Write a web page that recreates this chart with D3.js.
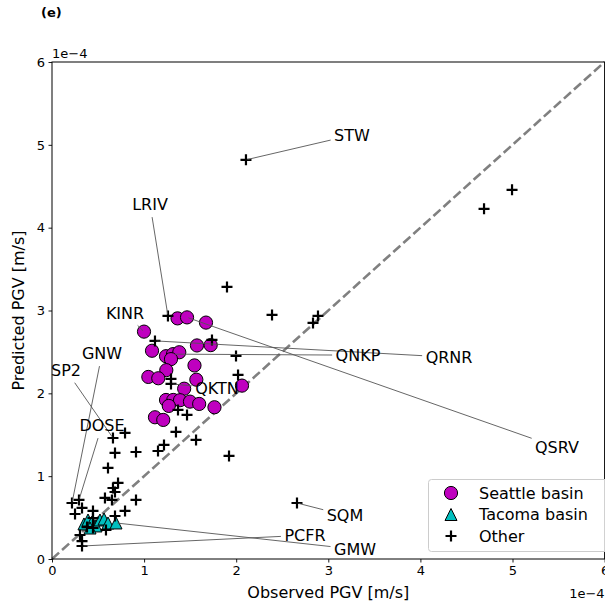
<!DOCTYPE html>
<html>
<head>
<meta charset="utf-8">
<script src="https://cdn.jsdelivr.net/npm/d3@7"></script>
<style>
body { margin: 0; background: #fff; }
text { font-family: "DejaVu Sans", sans-serif; fill: #000; }
</style>
</head>
<body>
<svg id="chart" width="605" height="607"></svg>
<script>
// PGV values in units of 1e-4 m/s
var seattleObs  = [0.999, 1.363, 1.466, 1.672, 1.086, 1.574, 1.723, 1.238, 1.314, 1.382, 1.292, 1.547, 1.241, 1.046,
                   1.154, 1.567, 1.435, 2.063, 1.238, 1.317, 1.390, 1.498, 1.598, 1.268, 1.764, 1.118, 1.208];
var seattlePred = [2.745, 2.905, 2.917, 2.854, 2.514, 2.578, 2.582, 2.448, 2.473, 2.496, 2.413, 2.337, 2.280, 2.198,
                   2.182, 2.165, 2.056, 2.093, 1.920, 1.920, 1.917, 1.900, 1.872, 1.848, 1.832, 1.711, 1.679];

var tacomaObs  = [0.347, 0.391, 0.434, 0.478, 0.521, 0.565, 0.608, 0.695, 0.413];
var tacomaPred = [0.423, 0.471, 0.447, 0.399, 0.471, 0.483, 0.435, 0.435, 0.374];

var otherObs  = [2.106, 4.691, 4.995, 1.900, 1.259, 2.389, 2.834, 2.888, 1.118, 1.737, 1.998, 2.020, 1.292, 1.292,
                 1.368, 1.466, 1.346, 1.564, 1.216, 1.151, 1.922, 2.660, 0.662, 0.793, 0.684, 0.912, 0.608, 0.717,
                 0.662, 0.684, 0.575, 0.651, 0.912, 0.793, 0.684, 0.586, 0.445, 0.445, 0.380, 0.445, 0.217, 0.293,
                 0.326, 0.250, 0.304, 0.326, 0.326];
var otherPred = [4.819, 4.227, 4.457, 3.285, 2.935, 2.947, 2.850, 2.935, 2.633, 2.645, 2.452, 2.222, 2.174, 2.114,
                 1.800, 1.739, 1.534, 1.437, 1.377, 1.304, 1.244, 0.676, 1.461, 1.522, 1.280, 1.292, 1.099, 0.918,
                 0.857, 0.809, 0.737, 0.713, 0.713, 0.580, 0.519, 0.350, 0.580, 0.495, 0.386, 0.374, 0.676, 0.713,
                 0.616, 0.543, 0.290, 0.217, 0.157];

var ticks = [0, 1, 2, 3, 4, 5, 6];

// station labels: which point they name and where the text sits (data units)
var stations = [
    {name: 'STW',  group: 'other',   idx: 0,  tx: 3.257, ty: 5.121},
    {name: 'LRIV', group: 'other',   idx: 4,  tx: 1.064, ty: 4.287},
    {name: 'KINR', group: 'seattle', idx: 0,  tx: 0.793, ty: 2.971},
    {name: 'GNW',  group: 'other',   idx: 40, tx: 0.543, ty: 2.488},
    {name: 'SP2',  group: 'other',   idx: 22, tx: 0.152, ty: 2.283},
    {name: 'DOSE', group: 'other',   idx: 41, tx: 0.543, ty: 1.618},
    {name: 'QKTN', group: 'other',   idx: 13, tx: 1.792, ty: 2.065},
    {name: 'QNKP', group: 'seattle', idx: 8,  tx: 3.322, ty: 2.464},
    {name: 'QRNR', group: 'other',   idx: 8,  tx: 4.311, ty: 2.440},
    {name: 'QSRV', group: 'seattle', idx: 2,  tx: 5.483, ty: 1.353},
    {name: 'SQM',  group: 'other',   idx: 21, tx: 3.181, ty: 0.531},
    {name: 'PCFR', group: 'other',   idx: 46, tx: 2.747, ty: 0.290},
    {name: 'GMW',  group: 'tacoma',  idx: 7,  tx: 3.290, ty: 0.121}
];

var groups = {
    seattle: {obs: seattleObs, pred: seattlePred},
    tacoma:  {obs: tacomaObs,  pred: tacomaPred},
    other:   {obs: otherObs,   pred: otherPred}
};

var svg = d3.select('#chart');
var padL = 52, padR = 604.6, padT = 62, padB = 559;

var x = d3.scaleLinear().domain([0, 6]).range([padL, padR]);
var y = d3.scaleLinear().domain([0, 6]).range([padB, padT]);

function pts(g)
{
    return groups[g].obs.map(function(v, i) { return [v, groups[g].pred[i]]; });
}

svg.append('text')
    .attr('x', 41).attr('y', 17)
    .style('font-size', '13px').style('font-weight', 'bold')
    .text('(e)');

var plot = svg.append('g');

// 1:1 line
plot.append('line')
    .attr('x1', x(0)).attr('y1', y(0))
    .attr('x2', x(6)).attr('y2', y(6))
    .attr('stroke', '#808080').attr('stroke-width', 2.6)
    .attr('stroke-dasharray', '9.5,4');

plot.selectAll('circle.seattle')
    .data(pts('seattle'))
    .enter().append('circle')
    .attr('class', 'seattle')
    .attr('cx', function(d) { return x(d[0]); })
    .attr('cy', function(d) { return y(d[1]); })
    .attr('r', 6.6)
    .attr('fill', '#bf00bf').attr('stroke', '#000').attr('stroke-width', 1);

var tri = 'M0,-6L6,6L-6,6Z';
plot.selectAll('path.tacoma')
    .data(pts('tacoma'))
    .enter().append('path')
    .attr('class', 'tacoma')
    .attr('d', tri)
    .attr('transform', function(d) { return 'translate(' + x(d[0]) + ',' + y(d[1]) + ')'; })
    .attr('fill', '#00bfbf').attr('stroke', '#000').attr('stroke-width', 1);

var plus = 'M-5.5,0H5.5M0,-5.5V5.5';
plot.selectAll('path.other')
    .data(pts('other'))
    .enter().append('path')
    .attr('class', 'other')
    .attr('d', plus)
    .attr('transform', function(d) { return 'translate(' + x(d[0]) + ',' + y(d[1]) + ')'; })
    .attr('stroke', '#000').attr('stroke-width', 2.2);

// axes
var xAxis = d3.axisBottom(x).tickValues(ticks).tickFormat(d3.format('d')).tickSize(3.5).tickPadding(3.5);
var yAxis = d3.axisLeft(y).tickValues(ticks).tickFormat(d3.format('d')).tickSize(3.5).tickPadding(3.5);

var gx = svg.append('g').attr('transform', 'translate(0,' + padB + ')').call(xAxis);
var gy = svg.append('g').attr('transform', 'translate(' + padL + ',0)').call(yAxis);
[gx, gy].forEach(function(g)
{
    g.select('.domain').remove();
    g.selectAll('line').attr('stroke', '#000').attr('stroke-width', 0.9);
    g.selectAll('text').style('font-size', '13px').style('font-family', '"DejaVu Sans", sans-serif');
});

svg.append('rect')
    .attr('x', padL).attr('y', padT)
    .attr('width', padR - padL).attr('height', padB - padT)
    .attr('fill', 'none').attr('stroke', '#000').attr('stroke-width', 1);

svg.append('text').attr('x', padL).attr('y', padT - 4)
    .style('font-size', '13px').text('1e\u22124');
svg.append('text').attr('x', padR).attr('y', 598)
    .attr('text-anchor', 'end')
    .style('font-size', '13px').text('1e\u22124');

svg.append('text')
    .attr('x', (padL + padR) / 2).attr('y', 598)
    .attr('text-anchor', 'middle')
    .style('font-size', '16px')
    .text('Observed PGV [m/s]');

svg.append('text')
    .attr('transform', 'translate(24,' + (padT + padB) / 2 + ') rotate(-90)')
    .attr('text-anchor', 'middle')
    .style('font-size', '16px')
    .text('Predicted PGV [m/s]');

// station annotations: leader line runs from the point toward the text centre
var notes = svg.append('g');
stations.forEach(function(s)
{
    var p = pts(s.group)[s.idx];
    var px = x(p[0]), py = y(p[1]);
    var cx = x(s.tx), cy = y(s.ty);

    var t = notes.append('text')
        .attr('x', cx).attr('y', cy)
        .attr('dy', '0.36em')
        .attr('text-anchor', 'middle')
        .style('font-size', '16px')
        .text(s.name);
    var bb = t.node().getBBox();
    var hw = bb.width / 2 + 1, hh = bb.height / 2 + 1;
    var bcx = bb.x + bb.width / 2, bcy = bb.y + bb.height / 2;

    var dx = px - bcx, dy = py - bcy;
    var k = Math.min(hw / Math.abs(dx || 1e-9), hh / Math.abs(dy || 1e-9));
    var len = Math.sqrt(dx * dx + dy * dy);
    var k2 = k + 2.5 / len;
    notes.insert('line', 'text')
        .attr('x1', px - dx * 1.5 / len).attr('y1', py - dy * 1.5 / len)
        .attr('x2', bcx + dx * k2).attr('y2', bcy + dy * k2)
        .attr('stroke', '#555').attr('stroke-width', 0.9);
});

// legend
var lg = svg.append('g');
lg.append('rect')
    .attr('x', 428.5).attr('y', 479.5)
    .attr('width', 180).attr('height', 72)
    .attr('rx', 3)
    .attr('fill', 'rgba(255,255,255,0.8)').attr('stroke', '#ccc').attr('stroke-width', 1);

var entries = [
    {label: 'Seattle basin', kind: 'seattle'},
    {label: 'Tacoma basin', kind: 'tacoma'},
    {label: 'Other', kind: 'other'}
];
entries.forEach(function(e, i)
{
    var ly = 493 + i * 21.5;
    if (e.kind == 'seattle')
    {
        lg.append('circle').attr('cx', 451).attr('cy', ly).attr('r', 6.6)
            .attr('fill', '#bf00bf').attr('stroke', '#000');
    }
    else if (e.kind == 'tacoma')
    {
        lg.append('path').attr('d', tri).attr('transform', 'translate(451,' + ly + ')')
            .attr('fill', '#00bfbf').attr('stroke', '#000');
    }
    else
    {
        lg.append('path').attr('d', plus).attr('transform', 'translate(451,' + ly + ')')
            .attr('stroke', '#000').attr('stroke-width', 2.2);
    }
    lg.append('text').attr('x', 479).attr('y', ly).attr('dy', '0.36em')
        .style('font-size', '16px').text(e.label);
});
</script>
</body>
</html>
